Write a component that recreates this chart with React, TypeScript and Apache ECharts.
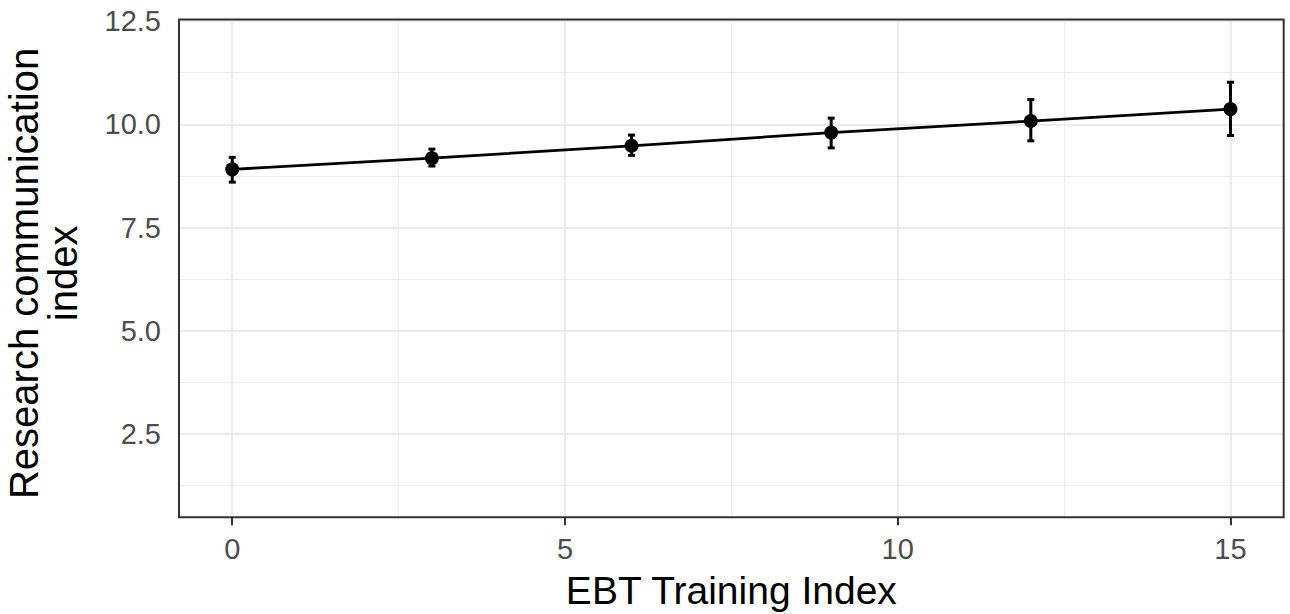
import React, { useEffect, useRef } from "react";
import * as echarts from "echarts";

// ---- data ----
const trainingIndex = [0, 3, 6, 9, 12, 15];
const commIndex = [8.91, 9.18, 9.48, 9.8, 10.08, 10.37];
const ciLower = [8.6, 8.99, 9.25, 9.43, 9.6, 9.73];
const ciUpper = [9.2, 9.4, 9.74, 10.15, 10.6, 11.02];

const xTicks = [0, 5, 10, 15];
const yTicks = [2.5, 5, 7.5, 10, 12.5];
const xMinorGrid = [2.5, 7.5, 12.5];
const yMinorGrid = [1.25, 3.75, 6.25, 8.75, 11.25];

const X_RANGE = [-0.8, 15.8];
const Y_RANGE = [0.48, 12.54];

const FONT = '"Liberation Sans", Arial, Helvetica, sans-serif';

export default function App() {
  const ref = useRef<HTMLDivElement>(null);

  useEffect(() => {
    if (!ref.current) return;
    const chart = echarts.init(ref.current, undefined, { renderer: "svg" });

    const major = { type: "solid", color: "#EBEBEB", width: 2 };
    const minor = { type: "solid", color: "#EBEBEB", width: 1 };
    const gridLines = [
      ...yMinorGrid.map((v) => ({ yAxis: v, lineStyle: minor })),
      ...xMinorGrid.map((v) => ({ xAxis: v, lineStyle: minor })),
      ...yTicks.map((v) => ({ yAxis: v, lineStyle: major })),
      ...xTicks.map((v) => ({ xAxis: v, lineStyle: major })),
    ];

    const option: any = {
      animation: false,
      backgroundColor: "#FFFFFF",
      grid: {
        left: 179,
        top: 19.5,
        right: 6.3,
        bottom: 96.7,
        outerBoundsMode: "none",
        containLabel: false,
        show: true,
        borderColor: "#333333",
        borderWidth: 2,
        backgroundColor: "transparent",
        z: 10,
      },
      xAxis: {
        type: "value",
        min: X_RANGE[0],
        max: X_RANGE[1],
        name: "EBT Training Index",
        nameLocation: "middle",
        nameGap: 54,
        nameTextStyle: { fontFamily: FONT, fontSize: 39, color: "#000000" },
        axisLine: { show: false },
        splitLine: { show: false },
        axisTick: {
          show: true,
          customValues: xTicks,
          length: 8,
          lineStyle: { color: "#333333", width: 2 },
        },
        axisLabel: {
          customValues: xTicks,
          margin: 17,
          fontFamily: FONT,
          fontSize: 29,
          color: "#4D4D4D",
        },
      },
      yAxis: {
        type: "value",
        min: Y_RANGE[0],
        max: Y_RANGE[1],
        name: "Research communication\nindex",
        nameLocation: "middle",
        nameGap: 97,
        nameTextStyle: {
          fontFamily: FONT,
          fontSize: 40,
          color: "#000000",
          lineHeight: 39,
          align: "center",
          padding: [0, 10, 0, 0],
        },
        axisLine: { show: false },
        splitLine: { show: false },
        axisTick: {
          show: true,
          customValues: yTicks,
          length: 8,
          lineStyle: { color: "#333333", width: 2 },
        },
        axisLabel: {
          customValues: yTicks,
          margin: 18,
          fontFamily: FONT,
          fontSize: 29,
          color: "#4D4D4D",
          formatter: (v: number) => v.toFixed(1),
        },
      },
      series: [
        {
          type: "line",
          data: [],
          z: 1,
          silent: true,
          markLine: {
            silent: true,
            z: 1,
            symbol: ["none", "none"],
            label: { show: false },
            emphasis: { disabled: true },
            animation: false,
            data: gridLines,
          },
        },
        {
          type: "line",
          z: 3,
          data: trainingIndex.map((x, i) => [x, commIndex[i]]),
          symbol: "circle",
          symbolSize: 14,
          showSymbol: true,
          itemStyle: { color: "#000000" },
          lineStyle: { color: "#000000", width: 2.8 },
          emphasis: { disabled: true },
        },
        {
          type: "custom",
          z: 4,
          data: trainingIndex.map((x, i) => [x, ciLower[i], ciUpper[i]]),
          encode: { x: 0, y: [1, 2] },
          renderItem: (params: any, api: any) => {
            const x = api.value(0);
            const top = api.coord([x, api.value(2)]);
            const bot = api.coord([x, api.value(1)]);
            const hw = 3.5;
            const style = { stroke: "#000000", lineWidth: 3 };
            return {
              type: "group",
              children: [
                { type: "line", shape: { x1: top[0], y1: top[1], x2: bot[0], y2: bot[1] }, style },
                { type: "line", shape: { x1: top[0] - hw, y1: top[1], x2: top[0] + hw, y2: top[1] }, style },
                { type: "line", shape: { x1: bot[0] - hw, y1: bot[1], x2: bot[0] + hw, y2: bot[1] }, style },
              ],
            };
          },
        },
      ],
    };

    chart.setOption(option);
    return () => chart.dispose();
  }, []);

  return (
    <div
      ref={ref}
      style={{ position: "fixed", left: 0, top: 0, width: 1290, height: 614 }}
    />
  );
}
